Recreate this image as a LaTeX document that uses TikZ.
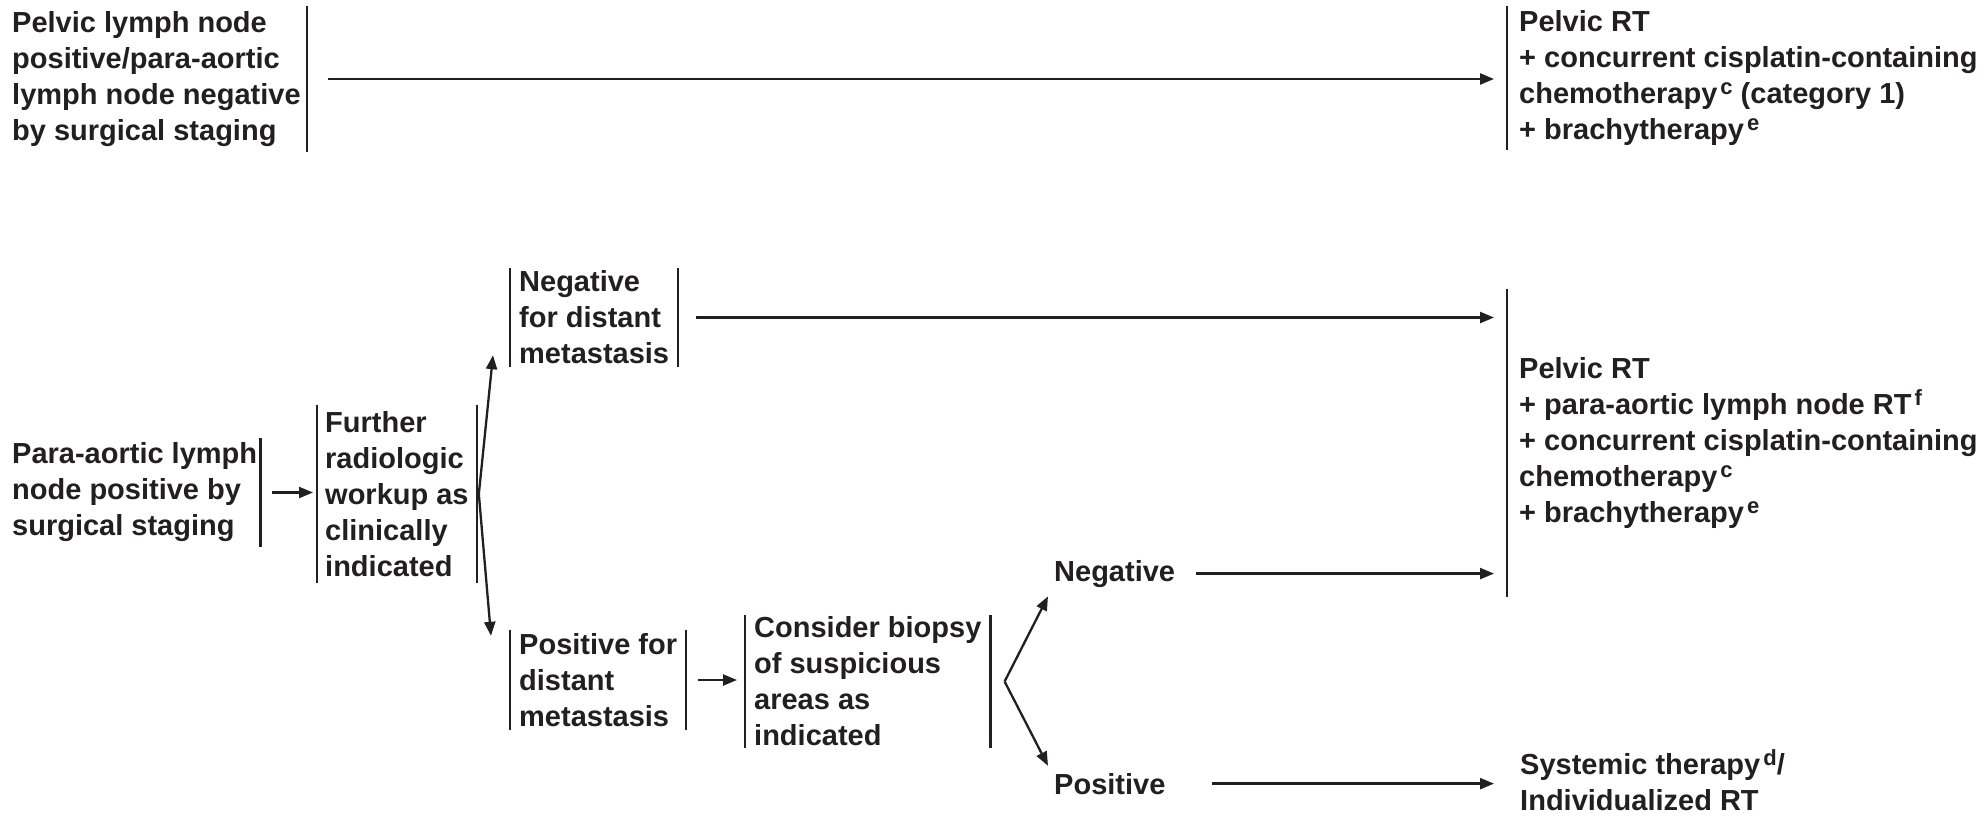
\documentclass[tikz,border=0pt]{standalone}
\usepackage{fontspec}
\setmainfont{Liberation Sans}
\usetikzlibrary{arrows.meta}
\definecolor{ink}{HTML}{231F20}
\newcommand{\sups}[1]{\kern3pt\raisebox{9pt}{\fontsize{22}{22}\selectfont #1}}

\tikzstyle{stage}= [anchor=west,align=left,inner xsep=9pt,inner ysep=0pt,text=ink,font=\bfseries\fontsize{29}{36}\selectfont]
\tikzstyle{result}= [anchor=base west,inner sep=0pt,text=ink,font=\bfseries\fontsize{29}{36}\selectfont]
\tikzstyle{bar}= [draw=ink,line width=2.3pt]
\tikzstyle{flow}= [draw=ink,line width=2.3pt,-{Triangle[length=14pt,width=11pt]}]

\begin{document}
\begin{tikzpicture}[x=1pt,y=-1pt]
		\useasboundingbox (0,0) rectangle (1986,815);

		\node (plnneg) at (6,79) [stage,inner xsep=6pt,minimum height=146pt] {Pelvic lymph node\\positive/para-aortic\\lymph node negative\\by surgical staging};
		\node (toprt) at (1507,78) [stage,inner xsep=12pt,minimum height=144pt] {Pelvic RT\\+ concurrent cisplatin-containing\\chemotherapy\sups{c} (category 1)\\+ brachytherapy\sups{e}};

		\node (negdist) at (510,317.5) [stage,minimum height=99pt] {Negative\\for distant\\metastasis};
		\node (pal) at (9,492.5) [stage,inner xsep=3pt,minimum height=109pt] {Para-aortic lymph\\node positive by\\surgical staging};
		\node (further) at (317,494) [stage,inner xsep=8pt,minimum height=178pt] {Further\\radiologic\\workup as\\clinically\\indicated};
		\node (posdist) at (510,680) [stage,minimum height=100pt] {Positive for\\distant\\metastasis};
		\node (biopsy) at (745,681.5) [stage,minimum height=133pt] {Consider biopsy\\of suspicious\\areas as\\indicated};

		\node (bigrt) at (1507,443) [stage,inner xsep=12pt,minimum height=308pt] {Pelvic RT\\+ para-aortic lymph node RT\sups{f}\\+ concurrent cisplatin-containing\\chemotherapy\sups{c}\\+ brachytherapy\sups{e}};

		\node (neg) at (1054,581) [result] {Negative};
		\node (pos) at (1054,794) [result] {Positive};
		\node (sys) at (1520,780) [stage,inner xsep=0pt] {Systemic therapy\sups{d}/\\Individualized RT};

		% side bars of the boxes
		\foreach \n in {toprt,negdist,further,posdist,biopsy,bigrt}
			\draw[bar] (\n.north west) -- (\n.south west);
		\foreach \n in {plnneg,pal,negdist,further,posdist,biopsy}
			\draw[bar] (\n.north east) -- (\n.south east);

		\coordinate (fork1) at ([xshift=2pt]further.east);
		\coordinate (fork2) at ([xshift=14pt]biopsy.east);

		\path (plnneg.east) edge[flow,shorten <=21pt,shorten >=13pt] (plnneg.east -| toprt.west);
		\path (pal.east) edge[flow,shorten <=12pt,shorten >=4pt] (pal.east -| further.west);
		\path (fork1) edge[flow] ([xshift=-17pt,yshift=12pt]negdist.south west);
		\path (fork1) edge[flow] ([xshift=-19pt,yshift=-6pt]posdist.north west);
		\path (negdist.east) edge[flow,shorten <=18pt,shorten >=13pt] (negdist.east -| bigrt.west);
		\path (posdist.east) edge[flow,shorten <=12pt,shorten >=8pt] (posdist.east -| biopsy.west);
		\path (fork2) edge[flow] ([xshift=-6pt,yshift=-9pt]neg.south west);
		\path (fork2) edge[flow] ([xshift=-6pt,yshift=7pt]pos.north west);
		\path (neg.east) edge[flow,shorten <=21pt,shorten >=13pt] (neg.east -| bigrt.west);
		\path (pos.east) edge[flow,shorten <=46pt,shorten >=26pt] (pos.east -| sys.west);

\end{tikzpicture}
\end{document}
